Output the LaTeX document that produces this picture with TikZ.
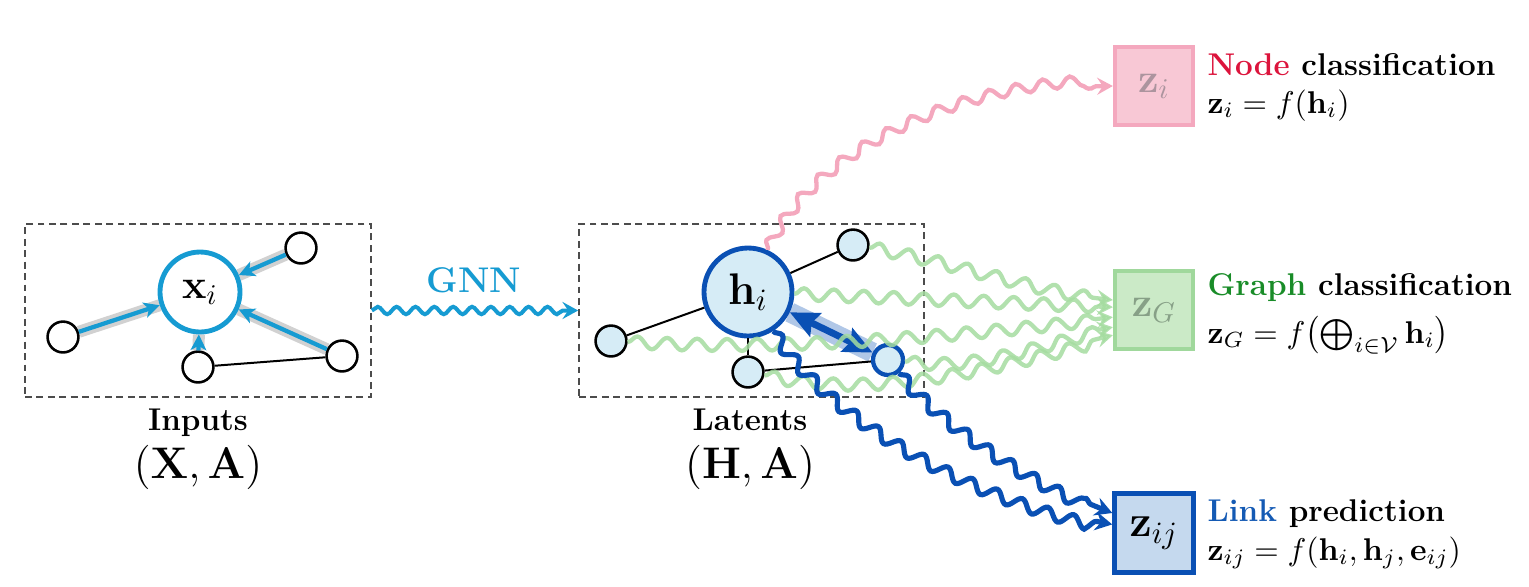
\RequirePackage{fix-cm}
\documentclass[tikz,border=0pt]{standalone}
\usepackage{amsmath}
\usetikzlibrary{arrows.meta,decorations.pathmorphing,calc}
\definecolor{gnnblue}{RGB}{22,155,210}
\definecolor{dkblue}{RGB}{10,80,180}
\definecolor{ltblue}{RGB}{214,236,246}
\definecolor{boxblue}{RGB}{197,217,238}
\definecolor{pinkln}{RGB}{244,168,190}
\definecolor{pinkfill}{RGB}{248,200,213}
\definecolor{pinktxt}{RGB}{172,148,158}
\definecolor{nodered}{RGB}{220,20,60}
\definecolor{grgreen}{RGB}{25,140,40}
\definecolor{grnln}{RGB}{165,220,160}
\definecolor{grnfill}{RGB}{203,234,199}
\definecolor{grnbd}{RGB}{160,216,156}
\definecolor{grntxt}{RGB}{135,160,135}
\definecolor{linkblue}{RGB}{20,90,180}
\pgfdeclarelayer{bg}
\pgfsetlayers{bg,main}
\begin{document}
\begin{tikzpicture}[x=0.35pt,y=-0.35pt,
  dbox/.style={draw=black!70,line width=0.6pt,dash pattern=on 2.4pt off 1.6pt,inner sep=0pt},
  small/.style={circle,draw=black,line width=0.9pt,fill=white,minimum size=10.8pt,inner sep=0pt},
  lsmall/.style={small,fill=ltblue},
  xnode/.style={circle,draw=gnnblue,line width=1.7pt,fill=white,minimum size=28pt,inner sep=0pt,font=\fontsize{14.4}{16}\selectfont},
  hnode/.style={circle,draw=dkblue,line width=1.7pt,fill=ltblue,minimum size=30.8pt,inner sep=0pt,font=\fontsize{15.5}{17}\selectfont},
  jnode/.style={circle,draw=dkblue,line width=1.5pt,fill=ltblue,minimum size=10.5pt,inner sep=0pt},
  edge/.style={draw=black,line width=0.7pt},
  band/.style={draw=black!18,line width=4.2pt},
  inarrow/.style={draw=gnnblue,line width=1.5pt,-{Stealth[length=5.5pt,width=5.5pt,inset=1.5pt]}},
  zbox/.style={rectangle,minimum size=27.5pt,inner sep=0pt,font=\fontsize{14.4}{16}\selectfont},
  lbl/.style={font=\fontsize{11}{13}\selectfont,inner sep=0pt},
  biglbl/.style={font=\fontsize{15.5}{18}\selectfont,inner sep=0pt},
  gnnsnake/.style={draw=gnnblue,line width=1.4pt,decorate,
    decoration={snake,amplitude=1.3pt,segment length=6.6pt,post length=4pt},
    -{Stealth[length=5.5pt,width=6pt,inset=2pt]}},
  pinksnake/.style={draw=pinkln,line width=1.5pt,decorate,
    decoration={snake,amplitude=1.9pt,segment length=9.5pt,post length=5pt},
    -{Stealth[length=5.5pt,width=6pt,inset=2pt]}},
  gsnake/.style={draw=grnln,opacity=0.85,line width=1.5pt,decorate,
    decoration={snake,amplitude=2.1pt,segment length=10.5pt,post length=3pt},
    -{Stealth[length=5.5pt,width=6pt,inset=2pt]}},
  bsnake/.style={draw=dkblue,line width=1.8pt,decorate,
    decoration={snake,amplitude=2pt,segment length=9.5pt,post length=4pt},
    -{Stealth[length=6pt,width=6.5pt,inset=2pt]}},
  linkarrow/.style={draw=dkblue,line width=2.4pt,{Stealth[length=10pt,width=9pt,inset=1.5pt]}-{Stealth[length=10pt,width=9pt,inset=1.5pt]}},
]
\useasboundingbox (0,0) rectangle (1529,586);

% dashed frames
\node[dbox,minimum width=121.1pt,minimum height=60.6pt] (inbox) at (198,310.5) {};
\node[dbox,minimum width=120.75pt,minimum height=60.6pt] (latbox) at (751.5,310.5) {};

% input graph
\node[xnode] (xi) at (200,292) {$\mathbf{x}_i$};
\node[small] (a1) at (63,337) {};
\node[small] (a2) at (301,248) {};
\node[small] (a3) at (198,367) {};
\node[small] (a4) at (342,356) {};
\draw[edge] (a3) -- (a4);
\begin{pgfonlayer}{bg}
  \foreach \n in {a1,a2,a3,a4} \draw[band] (\n) -- (xi);
\end{pgfonlayer}
\foreach \n in {a1,a2,a3,a4} \draw[inarrow] (\n) -- (xi);

\node[lbl,anchor=base] (inlbl) at (198,430) {\textbf{Inputs}};
\node[biglbl,anchor=base] (inmath) at (198,478) {$(\mathbf{X},\mathbf{A})$};

% GNN arrow
\draw[gnnsnake] (inbox.east) -- (latbox.west);
\node[anchor=base,text=gnnblue,inner sep=0pt,font=\fontsize{12.5}{14}\selectfont\bfseries] (gnnlbl) at (474,292) {GNN};

% latent graph
\node[hnode] (hi) at (748,292) {$\mathbf{h}_i$};
\node[lsmall] (b1) at (611,341) {};
\node[lsmall] (b2) at (853,245) {};
\node[lsmall] (b3) at (748,372) {};
\node[jnode] (hj) at (888,360) {};
\draw[edge] (b1) -- (hi);
\draw[edge] (hi) -- (b2);
\draw[edge] (hi) -- (b3);
\draw[edge] (b3) -- (hj);
\begin{pgfonlayer}{bg}
  \draw[draw=dkblue,opacity=0.32,line width=7pt] (hi) -- (hj);
\end{pgfonlayer}
\draw[linkarrow] (hi) -- (hj);

\node[lbl,anchor=base] (latlbl) at (750,430) {\textbf{Latents}};
\node[biglbl,anchor=base] (latmath) at (750,478) {$(\mathbf{H},\mathbf{A})$};

% output boxes
\node[zbox,fill=pinkfill,draw=pinkln,line width=1.3pt,text=pinktxt] (zi) at (1154,86) {$\mathbf{z}_i$};
\node[zbox,fill=grnfill,draw=grnbd,line width=1.3pt,text=grntxt] (zG) at (1154,310) {$\mathbf{z}_G$};
\node[zbox,fill=boxblue,draw=dkblue,line width=1.7pt,font=\fontsize{15.5}{17}\selectfont] (zij) at (1154,533) {$\mathbf{z}_{ij}$};

\node[lbl,anchor=base west] (t1) at (1207,75) {\textbf{\textcolor{nodered}{Node} classification}};
\node[lbl,anchor=base west] (f1) at (1207,113) {$\mathbf{z}_i = f(\mathbf{h}_i)$};
\node[lbl,anchor=base west] (t2) at (1207,295) {\textbf{\textcolor{grgreen}{Graph} classification}};
\node[lbl,anchor=base west] (f2) at (1207,343) {$\mathbf{z}_G = f\bigl(\bigoplus_{i\in\mathcal{V}}\mathbf{h}_i\bigr)$};
\node[lbl,anchor=base west] (t3) at (1207,521) {\textbf{\textcolor{linkblue}{Link} prediction}};
\node[lbl,anchor=base west] (f3) at (1207,560) {$\mathbf{z}_{ij} = f(\mathbf{h}_i,\mathbf{h}_j,\mathbf{e}_{ij})$};

% arrival points
\coordinate (g1) at ([yshift=3.5pt]zG.west);
\coordinate (g2) at ([yshift=1pt]zG.west);
\coordinate (g3) at ([yshift=-2.5pt]zG.west);
\coordinate (g4) at ([yshift=-6pt]zG.west);
\coordinate (g5) at ([yshift=-8.8pt]zG.west);
\coordinate (l1) at ([yshift=7pt]zij.west);
\coordinate (l2) at ([yshift=3pt]zij.west);

% node classification
\draw[pinksnake] (hi) .. controls (810,160) and (950,86) .. (zi.west);

% graph classification
\draw[gsnake] (b2) .. controls (950,262) and (1030,292) .. (g1);
\draw[gsnake] (hi) -- (g2);
\draw[gsnake] (b1) .. controls (800,352) and (1000,330) .. (g3);
\draw[gsnake] (hj) .. controls (980,370) and (1040,340) .. (g4);
\draw[gsnake] (b3) .. controls (880,400) and (1010,360) .. (g5);

% link prediction
\draw[bsnake] (hj) .. controls (920,400) and (1000,470) .. (l1);
\draw[bsnake] (hi) .. controls (830,420) and (980,500) .. (l2);
\end{tikzpicture}
\end{document}
